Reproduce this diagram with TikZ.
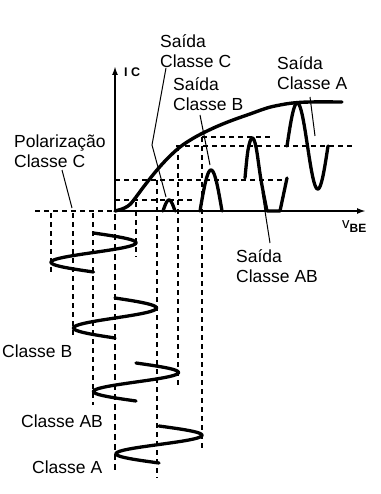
\documentclass[tikz,border=0pt]{standalone}
\usepackage{fontspec}
\setmainfont{Liberation Sans}
\usetikzlibrary{arrows.meta}
\begin{document}
\begin{tikzpicture}[x=1pt,y=-1pt,
  axis/.style={line width=2pt},
  dsh/.style={line width=1.9pt, dash pattern=on 5pt off 4pt},
  dshb/.style={line width=2.5pt, dash pattern=on 6pt off 4pt},
  wave/.style={line width=3.3pt, line cap=round, line join=round},
  lead/.style={line width=1pt},
  lbl/.style={inner sep=0pt, anchor=north west, align=left, font=\fontsize{17.5}{20}\selectfont},
  lbs/.style={inner sep=0pt, anchor=base west, font=\fontsize{17.5}{20}\selectfont}]
\useasboundingbox (0,0) rectangle (380,494);

% axes
\coordinate (O) at (115,211);
\coordinate (xend) at (366,211);
\coordinate (yend) at (115,66);
\coordinate (xleft) at (35,211);
\draw[axis,-{Latex[length=9pt,width=6pt]}] (O) -- (xend);
\draw[axis,-{Latex[length=9pt,width=6pt]}] (O) -- (yend);
\draw[dsh] (xleft) -- (O);
\node[inner sep=0pt, anchor=base west, font=\fontsize{12.5}{12}\selectfont\bfseries] (ic) at (124,77) {I C};
\node[inner sep=0pt, anchor=base west] (vbe) at (342,228) {\fontsize{15}{15}\selectfont v\raisebox{-4pt}{\fontsize{12}{12}\selectfont\textbf{BE}}};

% horizontal dashed guides
\draw[dsh] (115,200) -- (193,200);
\draw[dsh] (115,180) -- (288,180);
\draw[dsh] (176,146) -- (353,146);
\draw[dsh] (202,137) -- (270,137);

% vertical dashed guides
\draw[dsh] (51,213) -- (51,275);
\draw[dsh] (73,213) -- (73,337);
\draw[dsh] (93,213) -- (93,405);
\draw[dshb] (115,214) -- (115,473);
\draw[dsh] (136,202) -- (136,257);
\draw[dsh] (157,180) -- (157,478);
\draw[dsh] (178,146) -- (178,387);
\draw[dsh] (202,137) -- (202,450);

% transfer curve
\draw[line width=3.4pt, line cap=round] plot[smooth, tension=0.6] coordinates {(115,211) (122,209) (128,206) (133,201) (145,185) (157,170) (168,158) (180,147) (192,139) (203,133) (218,126) (233,120) (250,114) (267,108) (280,105) (293,103) (310,102) (342,102)};

% input waves
\draw[wave] plot[domain=0:360, samples=73, variable=\t] ({93.5+42.5*sin(\t)},{233+39*\t/360});
\draw[wave] plot[domain=0:360, samples=73, variable=\t] ({115+41.5*sin(\t)},{298+40*\t/360});
\draw[wave] plot[domain=0:360, samples=73, variable=\t] ({136+42.5*sin(\t)},{363+38*\t/360});
\draw[wave] plot[domain=0:360, samples=73, variable=\t] ({159+43*sin(\t)},{426+37*\t/360});

% output waves
\draw[wave] plot[domain=0:180, samples=30, variable=\t] ({163+12*\t/180},{211-11*sin(\t)});
\draw[wave] plot[domain=0:180, samples=30, variable=\t] ({200+22*\t/180},{211-41*sin(\t)});
\draw[wave] plot[smooth, tension=0.6] coordinates {(245,178) (248,150) (252,138) (256,147) (261,180) (267,211)} -- (280,211) -- (287,178);
\draw[wave] plot[domain=0:360, samples=73, variable=\t] ({287+41*\t/360},{146-43*sin(\t)});

% labels
\node[lbl] (sC) at (160,34.5) {Saída\\Classe C};
\node[lbl] (sB) at (173,77.5) {Saída\\Classe B};
\node[lbl] (sA) at (277,56.5) {Saída\\Classe A};
\node[lbl] (pol) at (14,134.5) {Polarização\\Classe C};
\node[lbl] (sAB) at (236,249.5) {Saída\\Classe AB};
\node[lbs] (cB) at (2,357) {Classe B};
\node[lbs] (cAB) at (21,427) {Classe AB};
\node[lbs] (cA) at (32,473) {Classe A};

% leader lines
\coordinate (lc1) at (166,68);
\coordinate (lc2) at (152,145);
\coordinate (lc3) at (166,197);
\draw[lead] (lc1) -- (lc2) -- (lc3);
\coordinate (lb1) at (200,115);
\coordinate (lb2) at (210,165);
\draw[lead] (lb1) -- (lb2);
\coordinate (la1) at (310,97);
\coordinate (la2) at (315,136);
\draw[lead] (la1) -- (la2);
\coordinate (lp1) at (62,170);
\coordinate (lp2) at (72,208);
\draw[lead] (lp1) -- (lp2);
\coordinate (lab1) at (262,192);
\coordinate (lab2) at (270,243);
\draw[lead] (lab1) -- (lab2);
\end{tikzpicture}
\end{document}
